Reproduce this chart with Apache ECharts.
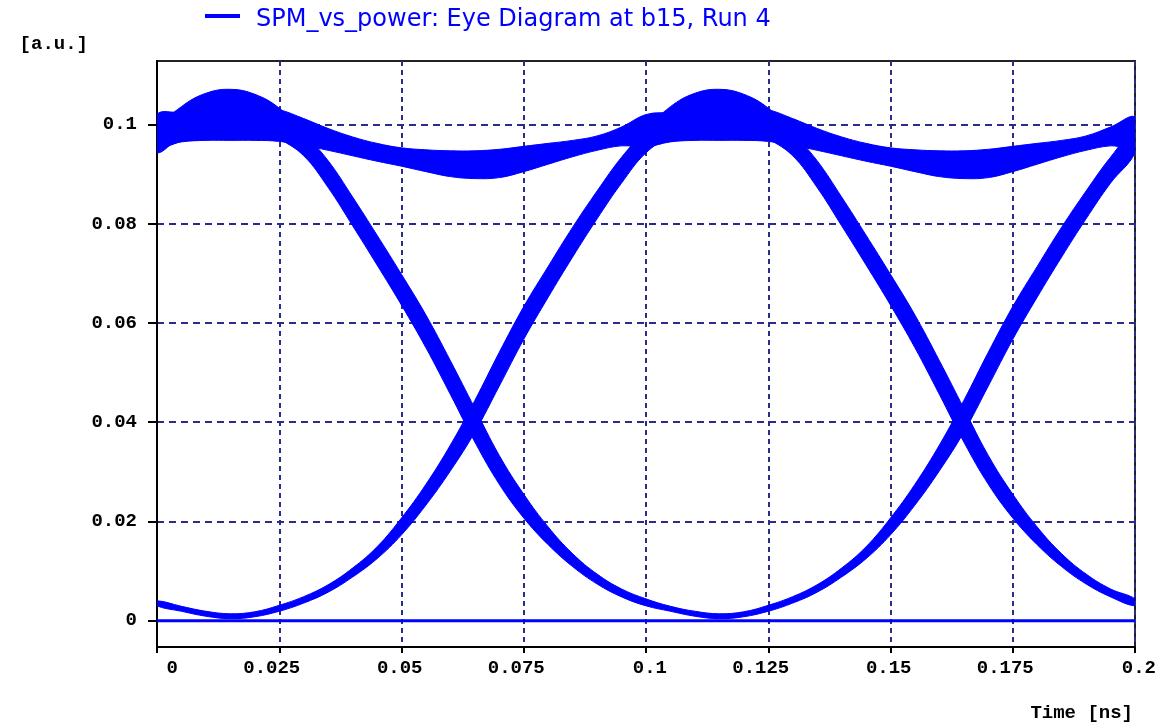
<!DOCTYPE html>
<html>
<head>
<meta charset="utf-8">
<script src="https://cdn.jsdelivr.net/npm/echarts@6/dist/echarts.min.js"></script>
<style>html,body{margin:0;padding:0;background:#fff}#chart{width:1170px;height:728px}</style>
</head>
<body>
<div id="chart"></div>
<script>
// ---------- data ----------
const seriesName = 'SPM_vs_power: Eye Diagram at b15, Run 4';
const xAxisTitle = 'Time [ns]';
const yAxisTitle = '[a.u.]';

// sample instants [ns]
const timeNs = [0, 0.005, 0.01, 0.015, 0.02, 0.025, 0.03, 0.035, 0.04, 0.045, 0.05, 0.055, 0.06, 0.065, 0.07, 0.075, 0.08, 0.085, 0.09, 0.095, 0.1,
  0.105, 0.11, 0.115, 0.12, 0.125, 0.13, 0.135, 0.14, 0.145, 0.15, 0.155, 0.16, 0.165, 0.17, 0.175, 0.18, 0.185, 0.19, 0.195, 0.2];

// "1 -> 1" rail: upper and lower edge of the trace bundle [a.u.]
const railUpper = [0.1020, 0.1025, 0.1035, 0.1040, 0.1038, 0.1030, 0.1012, 0.0992, 0.0975, 0.0962, 0.0953, 0.0949, 0.0947, 0.0947, 0.0950, 0.0956, 0.0962, 0.0968, 0.0977, 0.0995, 0.1020,
  0.1025, 0.1035, 0.1040, 0.1038, 0.1030, 0.1012, 0.0992, 0.0975, 0.0962, 0.0953, 0.0949, 0.0947, 0.0947, 0.0950, 0.0956, 0.0962, 0.0968, 0.0977, 0.0995, 0.1015];
const railLower = [0.0955, 0.0965, 0.0968, 0.0968, 0.0968, 0.0966, 0.0958, 0.0948, 0.0937, 0.0926, 0.0916, 0.0905, 0.0895, 0.0891, 0.0893, 0.0905, 0.0920, 0.0935, 0.0948, 0.0957, 0.0955,
  0.0965, 0.0968, 0.0968, 0.0968, 0.0966, 0.0958, 0.0948, 0.0937, 0.0926, 0.0916, 0.0905, 0.0895, 0.0891, 0.0893, 0.0905, 0.0920, 0.0935, 0.0948, 0.0957, 0.0955];

// "0 -> 1 -> 0" bundle: centre and half spread [a.u.]
const riseFallMid = [0.0035, 0.0024, 0.0014, 0.0009, 0.0013, 0.0025, 0.0042, 0.0065, 0.0097, 0.0137, 0.0190, 0.0254, 0.0328, 0.0412, 0.0507, 0.0600, 0.0683, 0.0763, 0.0838, 0.0908, 0.0966,
  0.1006, 0.1030, 0.1038, 0.1028, 0.1002, 0.0960, 0.0900, 0.0825, 0.0747, 0.0667, 0.0583, 0.0490, 0.0394, 0.0304, 0.0231, 0.0171, 0.0122, 0.0084, 0.0056, 0.0037];
const riseFallHalf = [0.0005, 0.0005, 0.0005, 0.0005, 0.0005, 0.0006, 0.00065, 0.00075, 0.0009, 0.0012, 0.0017, 0.0021, 0.0026, 0.0032, 0.0034, 0.0033, 0.0031, 0.0030, 0.0028, 0.0026, 0.0023,
  0.0030, 0.0033, 0.0033, 0.0033, 0.0031, 0.0023, 0.0027, 0.0029, 0.0030, 0.0031, 0.0033, 0.0034, 0.0034, 0.0029, 0.0024, 0.0018, 0.0013, 0.0010, 0.0008, 0.0007];

// "1 -> 0 -> 1" bundle: centre and half spread [a.u.]
const fallRiseMid = [0.0966, 0.1006, 0.1030, 0.1038, 0.1028, 0.1002, 0.0960, 0.0900, 0.0825, 0.0747, 0.0667, 0.0583, 0.0490, 0.0394, 0.0304, 0.0231, 0.0171, 0.0122, 0.0084, 0.0056, 0.0037,
  0.0024, 0.0014, 0.0009, 0.0013, 0.0025, 0.0042, 0.0065, 0.0097, 0.0137, 0.0190, 0.0254, 0.0328, 0.0412, 0.0507, 0.0600, 0.0683, 0.0763, 0.0838, 0.0908, 0.0966];
const fallRiseHalf = [0.0023, 0.0030, 0.0033, 0.0033, 0.0033, 0.0031, 0.0023, 0.0027, 0.0029, 0.0030, 0.0031, 0.0033, 0.0034, 0.0034, 0.0029, 0.0024, 0.0018, 0.0013, 0.0010, 0.0008, 0.0007,
  0.0005, 0.0005, 0.0005, 0.0005, 0.0006, 0.00065, 0.00075, 0.0009, 0.0012, 0.0017, 0.0021, 0.0026, 0.0032, 0.0034, 0.0033, 0.0031, 0.0030, 0.0028, 0.0026, 0.0023];

// "0 -> 0" level
const zeroTime = [0, 0.2];
const zeroLevel = [0, 0];

// tick labels
const xTickValues = [0, 0.025, 0.05, 0.075, 0.1, 0.125, 0.15, 0.175, 0.2];
const xTickLabels = ['0', '0.025', '0.05', '0.075', '0.1', '0.125', '0.15', '0.175', '0.2'];
const yTickValues = [0, 0.02, 0.04, 0.06, 0.08, 0.1];
const yTickLabels = ['0', '0.02', '0.04', '0.06', '0.08', '0.1'];

// ---------- chart ----------
const BLUE = '#0000ff';
const GRIDC = '#2b2b8a';
const MONO = 'Liberation Mono';

function lookupLabel(values, labels) {
  return function (v) {
    for (let i = 0; i < values.length; i++) {
      if (Math.abs(values[i] - v) < 1e-9) return labels[i];
    }
    return '';
  };
}

function bandRenderer(upper, lower) {
  return function (params, api) {
    const pts = [];
    for (let i = 0; i < timeNs.length; i++) pts.push(api.coord([timeNs[i], upper[i]]));
    for (let i = timeNs.length - 1; i >= 0; i--) pts.push(api.coord([timeNs[i], lower[i]]));
    return {
      type: 'polygon',
      shape: { points: pts, smooth: 0.4 },
      style: { fill: BLUE, stroke: BLUE, lineWidth: 1 }
    };
  };
}

const riseFallUpper = riseFallMid.map((m, i) => m + riseFallHalf[i]);
const riseFallLower = riseFallMid.map((m, i) => m - riseFallHalf[i]);
const fallRiseUpper = fallRiseMid.map((m, i) => m + fallRiseHalf[i]);
const fallRiseLower = fallRiseMid.map((m, i) => m - fallRiseHalf[i]);

function bandSeries(upper, lower) {
  return {
    name: seriesName,
    type: 'custom',
    clip: true,
    silent: true,
    itemStyle: { color: BLUE },
    renderItem: bandRenderer(upper, lower),
    data: [[timeNs[0], upper[0]]]
  };
}

const chart = echarts.init(document.getElementById('chart'), null, { renderer: 'canvas' });
chart.setOption({
  animation: false,
  backgroundColor: '#ffffff',
  legend: {
    data: [seriesName],
    left: 205,
    top: 8,
    padding: 0,
    // a 35x4 bar sitting in the upper part of a 35x12 icon box
    icon: 'path://M0,0H35V4H0Z M0,12H35',
    itemWidth: 35,
    itemHeight: 12,
    itemStyle: { borderWidth: 0 },
    selectedMode: false,
    textStyle: { color: BLUE, fontFamily: 'DejaVu Sans', fontSize: 24, padding: [0, 0, 0, 11] }
  },
  grid: {
    left: 157, right: 35, top: 61, bottom: 81,
    show: true, borderColor: '#222', borderWidth: 2,
    containLabel: false, outerBoundsMode: 'none'
  },
  xAxis: {
    type: 'value',
    min: 0, max: 0.2, interval: 0.025,
    name: xAxisTitle,
    nameLocation: 'end',
    nameGap: 0,
    nameTextStyle: { color: '#000', fontFamily: MONO, fontWeight: 'bold', fontSize: 19, align: 'right', verticalAlign: 'top', padding: [57, 2, 0, 0] },
    axisLine: { show: true, onZero: false, lineStyle: { color: '#000', width: 2 } },
    axisTick: { show: true, inside: false, length: 6, lineStyle: { color: '#000', width: 2 } },
    axisLabel: {
      color: '#000', fontFamily: MONO, fontWeight: 'bold', fontSize: 19,
      margin: 12, align: 'right', padding: [0, -21, 0, 0],
      formatter: lookupLabel(xTickValues, xTickLabels)
    },
    splitLine: { show: true, lineStyle: { color: GRIDC, width: 2, type: [5, 4] } }
  },
  yAxis: {
    type: 'value',
    min: -0.0053, max: 0.1128, splitNumber: 6,
    name: yAxisTitle,
    nameLocation: 'end',
    nameGap: 17,
    nameTextStyle: { color: '#000', fontFamily: MONO, fontWeight: 'bold', fontSize: 19, align: 'right', verticalAlign: 'middle', padding: [0, 69, 0, 0] },
    axisLine: { show: true, onZero: false, lineStyle: { color: '#000', width: 2 } },
    axisTick: { show: true, inside: false, length: 9, customValues: yTickValues, lineStyle: { color: '#000', width: 2 } },
    axisLabel: {
      color: '#000', fontFamily: MONO, fontWeight: 'bold', fontSize: 19, margin: 20,
      customValues: yTickValues, showMinLabel: true, showMaxLabel: true,
      formatter: lookupLabel(yTickValues, yTickLabels)
    },
    splitLine: { show: true, lineStyle: { color: GRIDC, width: 2, type: [7, 5] } }
  },
  series: [
    bandSeries(railUpper, railLower),
    bandSeries(riseFallUpper, riseFallLower),
    bandSeries(fallRiseUpper, fallRiseLower),
    {
      name: seriesName,
      type: 'line',
      symbol: 'none',
      silent: true,
      itemStyle: { color: BLUE },
      lineStyle: { color: BLUE, width: 3 },
      data: zeroTime.map((t, i) => [t, zeroLevel[i]])
    }
  ]
});
</script>
</body>
</html>
